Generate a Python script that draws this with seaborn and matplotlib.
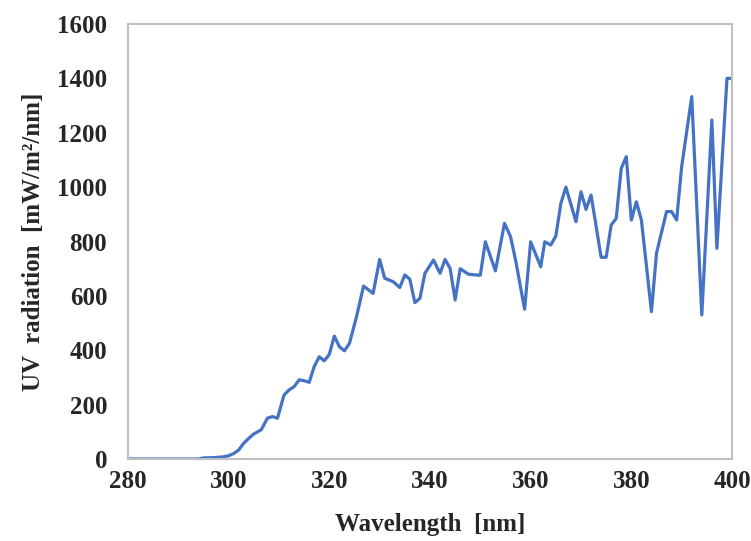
import matplotlib
matplotlib.use("Agg")
import matplotlib.pyplot as plt
import seaborn as sns
import pandas as pd

# Spectral UV irradiance
wavelength_nm = [280, 294, 295, 297, 299, 300, 301, 302, 303, 304, 305, 306.5,
                 307.7, 308.7, 309.7, 311, 312, 313, 314, 315, 316, 317, 318, 319,
                 320, 321, 322, 323, 324, 325.4, 326.8, 328.7, 330, 331, 332.7, 334,
                 335, 336, 337, 338, 339, 340.7, 342, 343, 344, 345, 346, 347.6,
                 349, 350, 351, 353, 354.8, 356, 357, 358.8, 360, 362, 362.8, 364,
                 365, 366, 367, 369, 370, 371, 372, 374, 375, 376, 377, 378,
                 379, 380, 381, 382, 384, 385, 387, 388, 389, 390, 392, 394,
                 396, 397, 399, 400]
uv_radiation = [0, 0, 4, 5, 8, 12, 20, 33, 58, 76, 92, 108,
                150, 156, 150, 235, 254, 266, 291, 288, 282, 340, 376, 361,
                385, 452, 413, 398, 425, 523, 636, 609, 734, 665, 652, 631,
                677, 661, 575, 591, 683, 732, 683, 734, 701, 585, 700, 680,
                677, 676, 799, 692, 867, 818, 732, 551, 799, 707, 799, 787,
                820, 940, 1000, 873, 983, 918, 971, 742, 742, 861, 885, 1069,
                1112, 879, 946, 879, 542, 757, 910, 910, 879, 1075, 1333, 530,
                1247, 775, 1400, 1400]

x_ticks = [280, 300, 320, 340, 360, 380, 400]
y_ticks = [0, 200, 400, 600, 800, 1000, 1200, 1400, 1600]

df = pd.DataFrame({"wavelength": wavelength_nm, "uv": uv_radiation})

sns.set_style("white")
plt.rcParams["font.family"] = ["Liberation Serif", "DejaVu Serif"]
plt.rcParams["font.weight"] = "bold"

fig = plt.figure(figsize=(7.51, 5.41), dpi=100)
ax = fig.add_axes([0.1704, 0.1516, 0.8043, 0.804])

sns.lineplot(data=df, x="wavelength", y="uv", ax=ax, color="#4472C4",
             linewidth=2.3, estimator=None, sort=False)

ax.set_xlim(280, 400)
ax.set_ylim(0, 1600)
ax.set_xticks(x_ticks)
ax.set_yticks(y_ticks)
ax.tick_params(axis="x", length=0, labelsize=18, pad=8)
ax.tick_params(axis="y", length=0, labelsize=18, pad=15)
for lbl in ax.get_xticklabels() + ax.get_yticklabels():
    lbl.set_fontweight("bold")

ax.set_xlabel("Wavelength  [nm]", fontsize=18, fontweight="bold", labelpad=14)
ax.set_ylabel("UV  radiation  [mW/m²/nm]", fontsize=18, fontweight="bold", labelpad=9)

for side in ["left", "right", "top", "bottom"]:
    ax.spines[side].set_visible(True)
    ax.spines[side].set_color("#C0C0C0")
    ax.spines[side].set_linewidth(1.5)

fig.savefig("out.png", dpi=100)
